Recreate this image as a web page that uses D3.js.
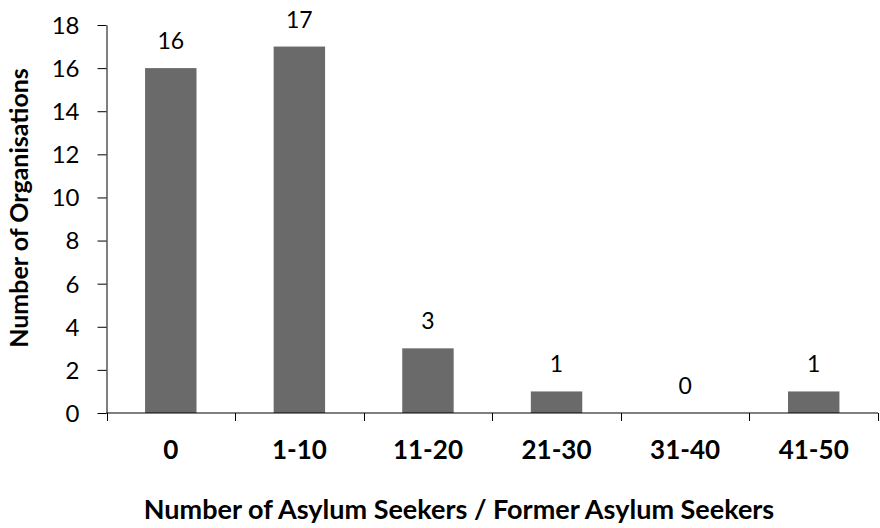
<html>
<head>
    <script src="https://d3js.org/d3.v7.min.js"></script>
    <style>
        body { margin: 0; background: #fff; }
        text { font-family: Lato, "Open Sans", sans-serif; fill: #000; }
    </style>
</head>
<body>
    <svg id="chart" width="880" height="528"></svg>
    <script>
        // data
        const categories = ["0", "1-10", "11-20", "21-30", "31-40", "41-50"];
        const counts = [16, 17, 3, 1, 0, 1];
        const yTicks = [0, 2, 4, 6, 8, 10, 12, 14, 16, 18];

        let svg = d3.select("#chart");

        let xScale = d3.scaleBand()
            .domain(categories)
            .range([106.5, 878])
            .paddingInner(0.6)
            .paddingOuter(0.3);
        let yScale = d3.scaleLinear()
            .domain([0, 18])
            .range([413, 25]);

        // bars
        categories.forEach((c, i) => {
            svg.append("rect")
                .attr("x", xScale(c))
                .attr("y", yScale(counts[i]))
                .attr("width", xScale.bandwidth())
                .attr("height", yScale(0) - yScale(counts[i]))
                .attr("fill", "#6a6a6a");
            // value label
            svg.append("text")
                .attr("x", xScale(c) + xScale.bandwidth() / 2)
                .attr("y", yScale(counts[i]) - 19)
                .attr("text-anchor", "middle")
                .attr("font-size", "23px")
                .text(counts[i]);
        });

        // y axis
        let yAxis = svg.append("g")
            .attr("transform", "translate(106.5,0)")
            .call(d3.axisLeft(yScale).tickValues(yTicks).tickSize(9).tickPadding(18).tickSizeOuter(0));
        yAxis.selectAll("text")
            .attr("font-size", "24px")
            .attr("font-family", "Lato, sans-serif")
            .attr("fill", "#000")
            .attr("dy", "0.35em");

        // x axis: ticks at band boundaries
        let bounds = d3.range(categories.length + 1).map(i => 106.5 + i * (878 - 106.5) / categories.length);
        let xg = svg.append("g");
        xg.append("line")
            .attr("x1", 106.5).attr("x2", 878)
            .attr("y1", yScale(0)).attr("y2", yScale(0))
            .attr("stroke", "#000");
        bounds.forEach(b => {
            xg.append("line")
                .attr("x1", Math.round(b) + 0.5).attr("x2", Math.round(b) + 0.5)
                .attr("y1", yScale(0)).attr("y2", yScale(0) + 8)
                .attr("stroke", "#000");
        });
        categories.forEach(c => {
            xg.append("text")
                .attr("x", xScale(c) + xScale.bandwidth() / 2)
                .attr("y", 459)
                .attr("text-anchor", "middle")
                .attr("font-size", "26px")
                .attr("font-weight", "bold")
                .text(c);
        });

        // axis titles
        svg.append("text")
            .attr("x", 459)
            .attr("y", 519)
            .attr("text-anchor", "middle")
            .attr("font-size", "27px")
            .attr("font-weight", "bold")
            .text("Number of Asylum Seekers / Former Asylum Seekers");

        svg.append("text")
            .attr("transform", "translate(28,208) rotate(-90)")
            .attr("text-anchor", "middle")
            .attr("font-size", "25px")
            .attr("font-weight", "bold")
            .text("Number of Organisations");

        svg.selectAll(".domain, .tick line").attr("stroke", "#000");
    </script>
</body>
</html>
